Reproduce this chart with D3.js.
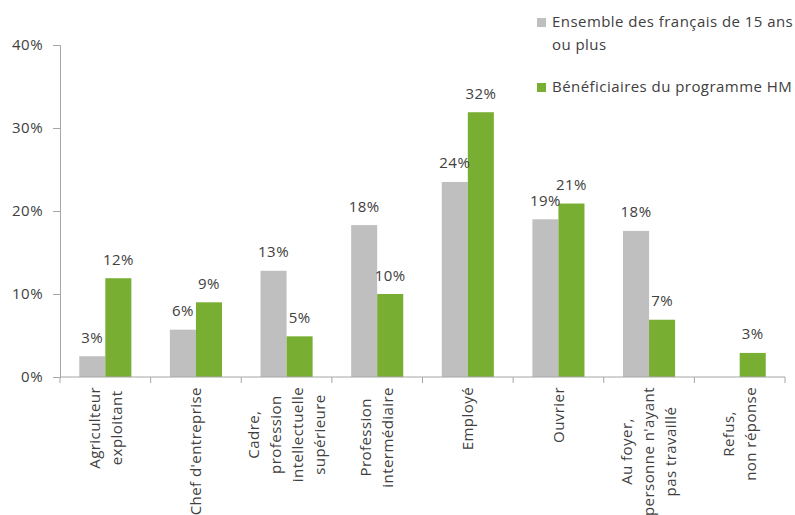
<!DOCTYPE html>
<html>
<head>
<meta charset="utf-8">
<script src="https://cdn.jsdelivr.net/npm/d3@7"></script>
<style>
  body { margin: 0; background: white; }
  svg { display: block; font-family: "Open Sans", sans-serif; letter-spacing: 0.45px; }
</style>
</head>
<body>
<div class="chart"></div>
<script>
let width = 795
let height = 515
let margin = {top: 45, right: 10, bottom: 138, left: 60}

let categories = [
    ['Agriculteur', 'exploitant'],
    ["Chef d'entreprise"],
    ['Cadre,', 'profession', 'intellectuelle', 'supérieure'],
    ['Profession', 'intermédiaire'],
    ['Employé'],
    ['Ouvrier'],
    ['Au foyer,', "personne n'ayant", 'pas travaillé'],
    ['Refus,', 'non réponse']
]
let series = ['Ensemble des français de 15 ans ou plus', 'Bénéficiaires du programme HM']
let legend_lines = [['Ensemble des français de 15 ans', 'ou plus'], ['Bénéficiaires du programme HM']]
let ensemble =      [2.5, 5.7, 12.8, 18.3, 23.5, 19.0, 17.6, 0]
let beneficiaires = [11.9, 9.0, 4.9, 10.0, 31.9, 20.9, 6.9, 2.9]
let y_ticks = [0, 10, 20, 30, 40]
let colors = ['#bfbfbf', '#78ae32']

let fontSize = 15
let keys = categories.map(d => d.join(' '))
let values = [ensemble, beneficiaires]

let x = d3.scaleBand()
    .domain(keys)
    .range([margin.left, width - margin.right])
    .padding(0)

let x1 = d3.scaleBand()
    .domain(d3.range(series.length))
    .range([0, x.bandwidth()])
    .paddingInner(0)
    .paddingOuter(0.74)

let y = d3.scaleLinear()
    .domain([0, 40])
    .range([height - margin.bottom, margin.top])

let svg = d3.select(".chart").append("svg")
    .attr("width", width)
    .attr("height", height)

let rows = keys.map((k, i) => ({key: k, lines: categories[i], vals: values.map(v => v[i])}))

let group = svg.append("g")
    .selectAll("g")
    .data(rows)
    .join("g")
    .attr("transform", d => `translate(${x(d.key)},0)`)

group.selectAll("rect")
    .data(d => d.vals.map((v, s) => ({v, s})))
    .join("rect")
    .attr("x", d => x1(d.s))
    .attr("width", x1.bandwidth())
    .attr("y", d => y(d.v))
    .attr("height", d => y(0) - y(d.v))
    .attr("fill", d => colors[d.s])

group.selectAll("text.val")
    .data(d => d.vals.map((v, s) => ({v, s})).filter(d => d.v > 0))
    .join("text")
    .attr("class", "val")
    .attr("x", d => x1(d.s) + x1.bandwidth() / 2)
    .attr("y", d => y(d.v) - 13.5)
    .attr("text-anchor", "middle")
    .attr("font-size", fontSize)
    .attr("fill", "#404040")
    .text(d => Math.round(d.v) + "%")

// y axis
let yAxis = svg.append("g")
    .attr("transform", `translate(${margin.left},0)`)
    .call(d3.axisLeft(y).tickValues(y_ticks).tickSize(7).tickFormat(d => d + "%"))
yAxis.select(".domain").attr("stroke", "#a6a6a6")
yAxis.selectAll(".tick line").attr("stroke", "#a6a6a6")
yAxis.selectAll(".tick text")
    .attr("font-family", "Open Sans, sans-serif")
    .attr("font-size", fontSize)
    .attr("fill", "#404040")
    .attr("x", -17)

// x axis
let xAxisG = svg.append("g")
xAxisG.append("line")
    .attr("x1", margin.left).attr("x2", width - margin.right)
    .attr("y1", y(0)).attr("y2", y(0))
    .attr("stroke", "#a6a6a6")
xAxisG.selectAll("line.tick")
    .data(keys.concat(["end"]))
    .join("line")
    .attr("class", "tick")
    .attr("x1", (d, i) => i < keys.length ? x(d) : x.range()[1])
    .attr("x2", (d, i) => i < keys.length ? x(d) : x.range()[1])
    .attr("y1", y(0)).attr("y2", y(0) + 6)
    .attr("stroke", "#a6a6a6")

let lineGap = 22
let labelTop = y(0) + 10
let labels = svg.append("g")
    .selectAll("g")
    .data(rows)
    .join("g")
    .attr("font-size", fontSize)
    .attr("fill", "#404040")

labels.each(function(d) {
    let g = d3.select(this)
    let cx = x(d.key) + x.bandwidth() / 2
    let n = d.lines.length
    let texts = g.selectAll("text")
        .data(d.lines)
        .join("text")
        .attr("text-anchor", "middle")
        .attr("dy", "0.35em")
        .text(t => t)
    let maxLen = d3.max(texts.nodes(), t => t.getComputedTextLength())
    texts.attr("transform", (t, i) => {
        let lx = cx + (i - (n - 1) / 2) * lineGap
        return `translate(${lx},${labelTop + maxLen / 2}) rotate(-90)`
    })
})

// legend
let legend = svg.append("g")
    .attr("font-size", fontSize)
    .attr("fill", "#404040")
let legendY = [27, 92]
legend_lines.forEach((lines, i) => {
    legend.append("rect")
        .attr("x", 537).attr("y", legendY[i] - 9)
        .attr("width", 9).attr("height", 9)
        .attr("fill", colors[i])
    lines.forEach((t, j) => {
        legend.append("text")
            .attr("x", 552)
            .attr("y", legendY[i] + j * 23)
            .text(t)
    })
})
</script>
</body>
</html>
